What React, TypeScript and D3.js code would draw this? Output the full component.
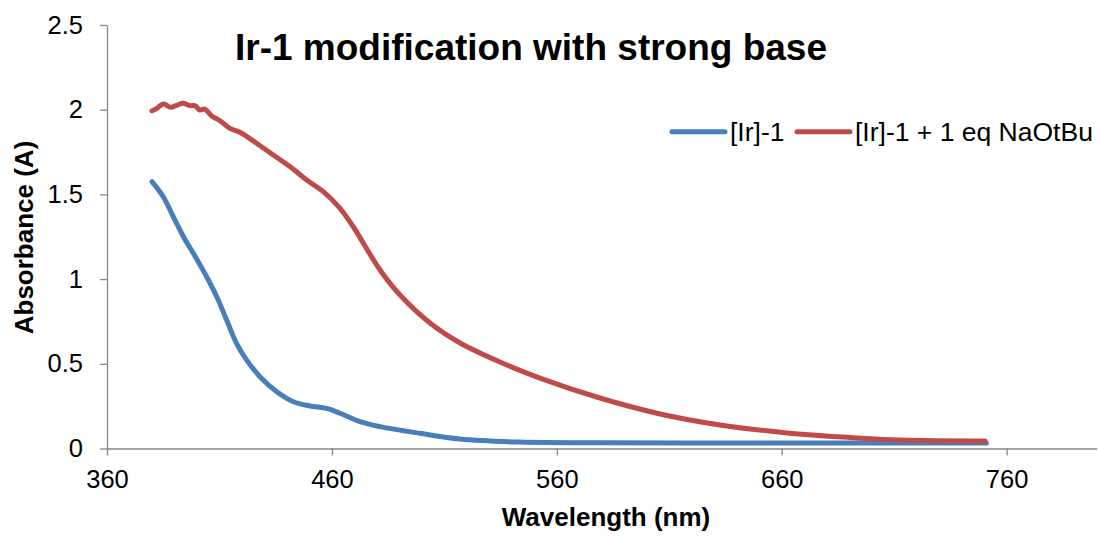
import React, { useEffect, useRef } from "react";
import * as d3 from "d3";

// wavelength (nm) / absorbance
const irWave = [380, 385, 389.5, 394, 399.3, 404.3, 408.8, 413.2, 417.6, 422.1, 428, 435.5, 442.9, 450.3, 457.7, 463.6, 472.5, 481.4, 499, 517, 543.6, 580, 650, 700, 751];
const irAbs = [1.575, 1.486, 1.368, 1.25, 1.132, 1.014, 0.896, 0.758, 0.621, 0.522, 0.424, 0.335, 0.276, 0.251, 0.237, 0.208, 0.158, 0.129, 0.09, 0.056, 0.038, 0.034, 0.033, 0.033, 0.033];

const baseWave = [380, 382.2, 385.1, 388.1, 391, 393.7, 396.9, 399.1, 401.3, 403.5, 406.5, 410.2, 414.7, 419.1, 426.5, 433.9, 441.3, 448.8, 456.2, 463.6, 469.5, 481.4, 490.3, 503.6, 517, 534.7, 552.5, 579.2, 605.9, 632.6, 662.4, 690.4, 712.6, 750.4];
const baseAbs = [1.994, 2.008, 2.034, 2.014, 2.026, 2.038, 2.024, 2.024, 1.998, 2.004, 1.963, 1.935, 1.89, 1.867, 1.802, 1.733, 1.664, 1.585, 1.516, 1.418, 1.309, 1.054, 0.906, 0.741, 0.623, 0.511, 0.416, 0.298, 0.204, 0.139, 0.092, 0.065, 0.05, 0.044];

const xTicks = [360, 460, 560, 660, 760];
const yTicks = [0, 0.5, 1, 1.5, 2, 2.5];
const seriesNames = ["[Ir]-1", "[Ir]-1 + 1 eq NaOtBu"];
const seriesColors = ["#4A7EBB", "#BE4B48"];

const App = () => {
  const svgRef = useRef<SVGSVGElement>(null);

  useEffect(() => {
    const width = 1099;
    const height = 538;
    const font = "Arial, 'Liberation Sans', sans-serif";
    const axisColor = "#868686";

    const svg = d3.select(svgRef.current);
    svg.selectAll("*").remove();
    svg.attr("width", width).attr("height", height);

    const x = d3.scaleLinear().domain([360, 800]).range([107, 1096.6]);
    const y = d3.scaleLinear().domain([0, 2.5]).range([448.5, 25]);

    // axes
    const yAxis = d3.axisLeft(y).tickValues(yTicks).tickSize(7).tickSizeOuter(0)
      .tickFormat((d) => String(d));
    const gy = svg.append("g").attr("transform", `translate(${x(360)},0)`).call(yAxis);
    gy.select(".domain").attr("stroke", axisColor).attr("stroke-width", 1.3);
    gy.selectAll(".tick line").attr("stroke", axisColor).attr("stroke-width", 1.3);
    gy.selectAll(".tick text")
      .attr("x", -24)
      .attr("font-family", font)
      .attr("font-size", 25.5)
      .attr("fill", "#000");

    const xAxis = d3.axisBottom(x).tickValues(xTicks).tickSize(7).tickSizeOuter(0)
      .tickFormat((d) => String(d));
    const gx = svg.append("g").attr("transform", `translate(0,${y(0)})`).call(xAxis);
    gx.select(".domain").attr("stroke", axisColor).attr("stroke-width", 1.3);
    gx.selectAll(".tick line").attr("stroke", axisColor).attr("stroke-width", 1.3);
    gx.selectAll(".tick text")
      .attr("y", 21)
      .attr("dy", "0.71em")
      .attr("font-family", font)
      .attr("font-size", 25.5)
      .attr("fill", "#000");

    // data lines
    const line = d3
      .line<[number, number]>()
      .x((d) => x(d[0]))
      .y((d) => y(d[1]))
      .curve(d3.curveCatmullRom);

    const series = [
      irWave.map((w, i) => [w, irAbs[i]] as [number, number]),
      baseWave.map((w, i) => [w, baseAbs[i]] as [number, number]),
    ];

    svg
      .selectAll(".dataLine")
      .data(series)
      .join("path")
      .attr("class", "dataLine")
      .attr("d", (d) => line(d))
      .attr("fill", "none")
      .attr("stroke", (d, i) => seriesColors[i])
      .attr("stroke-width", 5)
      .attr("stroke-linecap", "round")
      .attr("stroke-linejoin", "round");

    // legend
    const legendX = [672, 797];
    const legend = svg
      .selectAll(".legendItem")
      .data(seriesNames)
      .join("g")
      .attr("class", "legendItem")
      .attr("transform", (d, i) => `translate(${legendX[i]},131.7)`);
    legend
      .append("line")
      .attr("x1", 0)
      .attr("x2", 53)
      .attr("stroke", (d, i) => seriesColors[i])
      .attr("stroke-width", 5)
      .attr("stroke-linecap", "round");
    legend
      .append("text")
      .attr("x", 58)
      .attr("y", 9)
      .attr("font-family", font)
      .attr("font-size", 26.5)
      .text((d) => d);

    // titles
    svg
      .append("text")
      .attr("x", 531)
      .attr("y", 60)
      .attr("text-anchor", "middle")
      .attr("font-family", font)
      .attr("font-size", 37)
      .attr("font-weight", "bold")
      .text("Ir-1 modification with strong base");

    svg
      .append("text")
      .attr("x", 606)
      .attr("y", 526)
      .attr("text-anchor", "middle")
      .attr("font-family", font)
      .attr("font-size", 26)
      .attr("font-weight", "bold")
      .text("Wavelength (nm)");

    svg
      .append("text")
      .attr("transform", "translate(33,237.5) rotate(-90)")
      .attr("text-anchor", "middle")
      .attr("font-family", font)
      .attr("font-size", 26)
      .attr("font-weight", "bold")
      .text("Absorbance (A)");
  }, []);

  return (
    <div style={{ position: "absolute", left: 0, top: 0 }}>
      <svg ref={svgRef} style={{ display: "block", background: "#fff" }} />
    </div>
  );
};

export default App;
